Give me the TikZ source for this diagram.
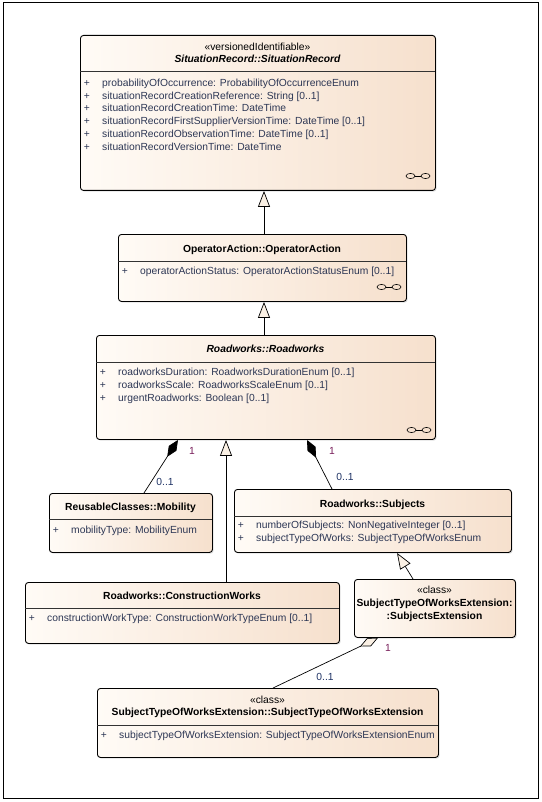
\documentclass[tikz,border=0pt]{standalone}
\usepackage{fontspec}
\setmainfont{Liberation Sans}
\usetikzlibrary{arrows.meta,shadows}
\pgfdeclarelayer{bg}
\pgfsetlayers{bg,main}
\definecolor{boxL}{RGB}{255,251,246}
\definecolor{boxR}{RGB}{246,224,205}
\definecolor{attrc}{RGB}{45,55,85}
\definecolor{multone}{RGB}{120,30,90}
\definecolor{multn}{RGB}{30,50,100}
\definecolor{trifill}{RGB}{250,240,228}
\tikzset{
 cls/.style={draw=black, line width=0.9pt, rounded corners=3pt, left color=boxL, right color=boxR,
   anchor=north west, inner sep=0pt,
   drop shadow={shadow xshift=1.2pt, shadow yshift=-1.2pt, fill=black!30, opacity=0.4}},
 txt/.style={inner sep=0pt, font=\fontsize{10.3}{12}\selectfont, text height=7pt, text depth=2.5pt},
 ttl/.style={txt, font=\fontsize{10.3}{12}\selectfont\bfseries},
 ttli/.style={txt, font=\fontsize{10.3}{12}\selectfont\bfseries\itshape},
 attr/.style={txt, anchor=west, text=attrc},
 plus/.style={txt, anchor=center, text=attrc},
 sepline/.style={line width=0.6pt, draw=black!80},
 gen/.style={draw, line width=0.7pt, -{Triangle[length=16pt,width=12pt,fill=trifill]}},
 comp/.style={draw, line width=0.7pt, -{Diamond[length=20pt,width=9pt,fill=black]}},
 aggr/.style={draw, line width=0.7pt, -{Diamond[length=20pt,width=9pt,fill=trifill]}},
 mone/.style={txt, text=multone},
 mmany/.style={txt, text=multn},
 linksym/.pic={
   \draw[line width=0.6pt] (-7.5pt,0) ellipse [x radius=4.5pt, y radius=2.6pt];
   \draw[line width=0.6pt] (7.5pt,0) ellipse [x radius=4.5pt, y radius=2.6pt];
   \draw[line width=0.6pt] (-3pt,0) -- (3pt,0);}
}
\newcommand\attrline[3]{\node[plus] at (#1+7,#2) {+}; \node[attr] at (#1+22,#2) {#3};}
\begin{document}
\begin{tikzpicture}[x=1pt,y=-1pt]
\useasboundingbox (0,0) rectangle (541,802);
\draw[line width=1pt] (3,3) rectangle (538,798);

% SituationRecord
\node[cls, minimum width=355pt, minimum height=155pt] (sr) at (80,35) {};
\node[txt] (srst) at (257.5,48) {«versionedIdentifiable»};
\node[ttli] (srt) at (257.5,60) {SituationRecord::SituationRecord};
\draw[sepline] (80,71) -- (435,71);
\attrline{80}{84}{probabilityOfOccurrence: ProbabilityOfOccurrenceEnum}
\attrline{80}{96.8}{situationRecordCreationReference: String [0..1]}
\attrline{80}{109.6}{situationRecordCreationTime: DateTime}
\attrline{80}{122.4}{situationRecordFirstSupplierVersionTime: DateTime [0..1]}
\attrline{80}{135.2}{situationRecordObservationTime: DateTime [0..1]}
\attrline{80}{148}{situationRecordVersionTime: DateTime}
\pic at (418,176) {linksym};

% OperatorAction
\node[cls, minimum width=288pt, minimum height=67pt] (oa) at (118,234) {};
\node[ttl] (oat) at (262,250) {OperatorAction::OperatorAction};
\draw[sepline] (118,261) -- (406,261);
\attrline{118}{272}{operatorActionStatus: OperatorActionStatusEnum [0..1]}
\pic at (389,287) {linksym};

% Roadworks
\node[cls, minimum width=339pt, minimum height=104pt] (rw) at (96,335) {};
\node[ttli] (rwt) at (265.5,350) {Roadworks::Roadworks};
\draw[sepline] (96,362) -- (435,362);
\attrline{96}{373}{roadworksDuration: RoadworksDurationEnum [0..1]}
\attrline{96}{386}{roadworksScale: RoadworksScaleEnum [0..1]}
\attrline{96}{399}{urgentRoadworks: Boolean [0..1]}
\pic at (419,430) {linksym};

% Mobility
\node[cls, minimum width=163pt, minimum height=59pt] (mob) at (49,493) {};
\node[ttl] (mobt) at (130.5,508) {ReusableClasses::Mobility};
\draw[sepline] (49,519) -- (212,519);
\attrline{49}{531}{mobilityType: MobilityEnum}

% Subjects
\node[cls, minimum width=277pt, minimum height=63pt] (sub) at (234,489) {};
\node[ttl] (subt) at (372.5,505) {Roadworks::Subjects};
\draw[sepline] (234,516) -- (511,516);
\attrline{234}{526}{numberOfSubjects: NonNegativeInteger [0..1]}
\attrline{234}{539}{subjectTypeOfWorks: SubjectTypeOfWorksEnum}

% ConstructionWorks
\node[cls, minimum width=314pt, minimum height=61pt] (cw) at (25,582) {};
\node[ttl] (cwt) at (182,597) {Roadworks::ConstructionWorks};
\draw[sepline] (25,608) -- (339,608);
\attrline{25}{619}{constructionWorkType: ConstructionWorkTypeEnum [0..1]}

% SubjectsExtension
\node[cls, minimum width=161pt, minimum height=58pt] (se) at (354,579) {};
\node[txt] (sest) at (434.5,591) {«class»};
\node[ttl] (set1) at (434.5,604) {SubjectTypeOfWorksExtension:};
\node[ttl] (set2) at (434.5,617) {:SubjectsExtension};

% SubjectTypeOfWorksExtension
\node[cls, minimum width=341pt, minimum height=69pt] (ext) at (97,688) {};
\node[txt] (extst) at (267.5,701) {«class»};
\node[ttl] (extt) at (267.5,713) {SubjectTypeOfWorksExtension::SubjectTypeOfWorksExtension};
\draw[sepline] (97,725) -- (438,725);
\attrline{97}{736}{subjectTypeOfWorksExtension: SubjectTypeOfWorksExtensionEnum}

% x positions for connector ends
\coordinate (c264) at (264,0);
\coordinate (c144) at (144,0);
\coordinate (c178) at (178,0);
\coordinate (c226) at (226,0);
\coordinate (c332) at (332,0);
\coordinate (c307) at (307,0);
\coordinate (c413) at (413,0);
\coordinate (c397) at (397,0);
\coordinate (c273) at (273,0);
\coordinate (c378) at (378,0);

\begin{pgfonlayer}{bg}
\draw[gen] (oa.north -| c264) -- (sr.south -| c264);
\draw[gen] (rw.north -| c264) -- (oa.south -| c264);
\draw[comp] (mob.north -| c144) -- (rw.south -| c178);
\draw[gen] (cw.north -| c226) -- (rw.south -| c226);
\draw[comp] (sub.north -| c332) -- (rw.south -| c307);
\draw[gen] (se.north -| c413) -- (sub.south -| c397);
\draw[aggr] (ext.north -| c273) -- (se.south -| c378);
\end{pgfonlayer}

% multiplicities
\node[mone] (m1) at (192,452) {1};
\node[mmany] (m2) at (165,483) {0..1};
\node[mone] (m3) at (332,452) {1};
\node[mmany] (m4) at (345,478) {0..1};
\node[mone] (m5) at (388,649) {1};
\node[mmany] (m6) at (325,678) {0..1};
\end{tikzpicture}
\end{document}
